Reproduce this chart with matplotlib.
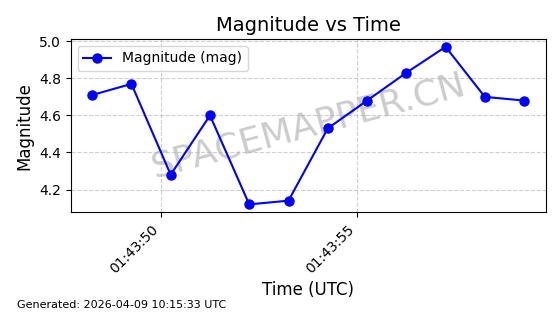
import numpy as np
import matplotlib
matplotlib.use('Agg')
import matplotlib.pyplot as plt
import matplotlib.dates as mdates
import datetime as dt

# sample times (seconds after 01:43:00 UTC) and magnitudes
seconds = [48.25, 49.25, 50.25, 51.25, 52.25, 53.25, 54.25, 55.25, 56.25, 57.25, 58.25, 59.25]
magnitude = [4.71, 4.77, 4.28, 4.60, 4.12, 4.14, 4.53, 4.68, 4.83, 4.97, 4.70, 4.68]

base = dt.datetime(2026, 4, 9, 1, 43, 0)
times = [base + dt.timedelta(seconds=s) for s in seconds]

fig, ax = plt.subplots(figsize=(5.6, 3.14), dpi=100)
fig.subplots_adjust(left=0.126, right=0.9745, top=0.876, bottom=0.324)

ax.plot(times, magnitude, 'o-', color='blue', markersize=6.5, linewidth=1.5, label='Magnitude (mag)')
ax.set_title('Magnitude vs Time', fontsize=14)
ax.set_xlabel('Time (UTC)', fontsize=12)
ax.set_ylabel('Magnitude', fontsize=12)
ax.grid(True, linestyle='--', alpha=0.6)
ax.legend(loc='upper left')

ax.xaxis.set_major_formatter(mdates.DateFormatter('%H:%M:%S'))
ax.xaxis.set_major_locator(mdates.SecondLocator(bysecond=range(0, 60, 5)))
plt.setp(ax.get_xticklabels(), rotation=45, ha='right')

ax.text(0.5, 0.5, 'SPACEMAPPER.CN', transform=ax.transAxes, fontsize=26,
        color='gray', alpha=0.4, rotation=15, ha='center', va='center', zorder=0)

fig.text(0.03, 0.02, 'Generated: 2026-04-09 10:15:33 UTC', fontsize=8)

plt.savefig('out.png', dpi=100)
